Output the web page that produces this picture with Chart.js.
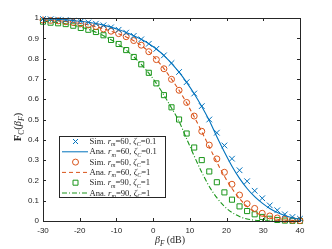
<!DOCTYPE html>
<html>
<head>
<meta charset="utf-8">
<script src="https://cdn.jsdelivr.net/npm/chart.js@4.4.0/dist/chart.umd.min.js"></script>
<style>
  html, body { margin: 0; padding: 0; background: #fff; }
  #wrap { width: 332px; height: 249px; position: relative; }
</style>
</head>
<body>
<div id="wrap"><canvas id="chart"></canvas></div>
<script>
// DATA
const beta = [-30, -27.94, -25.88, -23.82, -21.76, -19.71, -17.65, -15.59, -13.53, -11.47, -9.41, -7.35,
  -5.29, -3.24, -1.18, 0.88, 2.94, 5, 7.06, 9.12, 11.18, 13.24, 15.29, 17.35, 19.41, 21.47, 23.53,
  25.59, 27.65, 29.71, 31.76, 33.82, 35.88, 37.94, 40];

const simR60Z01 = [0.995, 0.994, 0.992, 0.990, 0.987, 0.983, 0.978, 0.972, 0.964, 0.954, 0.942, 0.928,
  0.912, 0.895, 0.873, 0.848, 0.816, 0.778, 0.734, 0.684, 0.628, 0.566, 0.500, 0.435, 0.372, 0.307,
  0.250, 0.196, 0.149, 0.112, 0.077, 0.053, 0.033, 0.020, 0.011];
const anaR60Z01 = [0.996, 0.995, 0.993, 0.991, 0.988, 0.984, 0.979, 0.973, 0.965, 0.955, 0.943, 0.929,
  0.913, 0.895, 0.873, 0.847, 0.815, 0.777, 0.733, 0.683, 0.627, 0.564, 0.495, 0.415, 0.340, 0.270,
  0.210, 0.160, 0.120, 0.088, 0.062, 0.042, 0.027, 0.016, 0.009];

const simR60Z1 = [0.990, 0.988, 0.986, 0.982, 0.978, 0.972, 0.966, 0.958, 0.946, 0.935, 0.923, 0.908,
  0.889, 0.866, 0.834, 0.795, 0.750, 0.698, 0.644, 0.584, 0.517, 0.442, 0.374, 0.306, 0.240, 0.181,
  0.128, 0.085, 0.062, 0.038, 0.025, 0.015, 0.008, 0.004, 0.002];
const anaR60Z1 = [0.991, 0.989, 0.987, 0.983, 0.979, 0.973, 0.966, 0.957, 0.947, 0.935, 0.922, 0.907,
  0.888, 0.865, 0.834, 0.796, 0.751, 0.699, 0.644, 0.582, 0.513, 0.440, 0.365, 0.290, 0.220, 0.160,
  0.110, 0.072, 0.045, 0.027, 0.016, 0.009, 0.005, 0.003, 0.001];

const simR90Z1 = [0.982, 0.977, 0.974, 0.970, 0.962, 0.951, 0.942, 0.931, 0.915, 0.892, 0.872, 0.842,
  0.808, 0.772, 0.730, 0.678, 0.620, 0.560, 0.500, 0.431, 0.362, 0.300, 0.244, 0.191, 0.141, 0.105,
  0.072, 0.049, 0.033, 0.020, 0.011, 0.005, 0.002, 0.001, 0.0];
const anaR90Z1 = [0.985, 0.981, 0.977, 0.971, 0.964, 0.955, 0.944, 0.930, 0.913, 0.893, 0.870, 0.842,
  0.809, 0.771, 0.728, 0.678, 0.620, 0.557, 0.490, 0.405, 0.320, 0.240, 0.170, 0.115, 0.072, 0.042,
  0.022, 0.010, 0.004, 0.001, 0, 0, 0, 0, 0];

const xTicks = [-30, -20, -10, 0, 10, 20, 30, 40];
const yTicks = [0, 0.1, 0.2, 0.3, 0.4, 0.5, 0.6, 0.7, 0.8, 0.9, 1];

const legendKind = ['Sim', 'Ana', 'Sim', 'Ana', 'Sim', 'Ana'];
const legendR = ['60', '60', '60', '60', '90', '90'];
const legendZeta = ['0.1', '0.1', '1', '1', '1', '1'];

const BLUE = '#0072BD', ORANGE = '#D95319', GREEN = '#1a961a', AX = '#262626';

function pts(ys) { return beta.map((b, i) => ({ x: b, y: ys[i] })); }

// text with italic / subscript pieces
function fontOf(p, size) {
  const s = p.sub ? size * 0.72 : size;
  return (p.it ? 'italic ' : '') + (p.b ? 'bold ' : '') + s + 'px "Liberation Serif", serif';
}
function richWidth(ctx, parts, size) {
  let w = 0;
  parts.forEach(p => { ctx.font = fontOf(p, size); w += ctx.measureText(p.t).width; });
  return w;
}
function drawRich(ctx, x, y, parts, size) {
  parts.forEach(p => {
    ctx.font = fontOf(p, size);
    ctx.fillText(p.t, x, y + (p.sub ? size * 0.28 : 0));
    x += ctx.measureText(p.t).width;
  });
}

const frame = {
  id: 'frame',
  afterDatasetsDraw(chart) {
    const { ctx, chartArea: a, scales: { x, y } } = chart;
    ctx.save();
    ctx.strokeStyle = AX;
    ctx.lineWidth = 1;
    ctx.beginPath();
    ctx.rect(Math.round(a.left) + 0.5, Math.round(a.top) + 0.5,
      Math.round(a.right - a.left), Math.round(a.bottom - a.top));
    x.ticks.forEach(t => {
      const px = Math.round(x.getPixelForValue(t.value)) + 0.5;
      ctx.moveTo(px, a.bottom); ctx.lineTo(px, a.bottom - 3);
      ctx.moveTo(px, a.top); ctx.lineTo(px, a.top + 3);
    });
    y.ticks.forEach(t => {
      const py = Math.round(y.getPixelForValue(t.value)) + 0.5;
      ctx.moveTo(a.left, py); ctx.lineTo(a.left + 3, py);
      ctx.moveTo(a.right, py); ctx.lineTo(a.right - 3, py);
    });
    ctx.stroke();
    ctx.restore();
  },
  afterDraw(chart) {
    const ctx = chart.ctx;
    ctx.save();
    ctx.fillStyle = AX;
    ctx.textBaseline = 'alphabetic';

    // axis titles
    const xt = [{ t: 'β', it: 1 }, { t: 'F', it: 1, sub: 1 }, { t: ' (dB)' }];
    drawRich(ctx, 170 - richWidth(ctx, xt, 10) / 2, 243, xt, 10);
    const yt = [{ t: 'F', b: 1 }, { t: 'C', sub: 1 }, { t: '(' }, { t: 'β', it: 1 }, { t: 'F', it: 1, sub: 1 }, { t: ')' }];
    ctx.save();
    ctx.translate(21, 127);
    ctx.rotate(-Math.PI / 2);
    drawRich(ctx, -richWidth(ctx, yt, 10.5) / 2, 0, yt, 10.5);
    ctx.restore();

    // legend
    const bx = 59.5, by = 136.5, bw = 106, bh = 61;
    ctx.fillStyle = '#fff';
    ctx.fillRect(bx, by, bw, bh);
    ctx.strokeStyle = AX;
    ctx.lineWidth = 1;
    ctx.strokeRect(bx, by, bw, bh);
    chart.data.datasets.forEach((ds, i) => {
      const ry = 141.5 + i * 10.3;
      ctx.strokeStyle = ds.borderColor;
      ctx.lineWidth = 1;
      if (ds.showLine) {
        ctx.setLineDash(ds.borderDash || []);
        ctx.beginPath(); ctx.moveTo(62, ry); ctx.lineTo(88, ry); ctx.stroke();
        ctx.setLineDash([]);
      } else {
        const mx = 75.5;
        ctx.beginPath();
        if (ds.pointStyle === 'crossRot') {
          ctx.moveTo(mx - 2.5, ry - 2.5); ctx.lineTo(mx + 2.5, ry + 2.5);
          ctx.moveTo(mx + 2.5, ry - 2.5); ctx.lineTo(mx - 2.5, ry + 2.5);
        } else if (ds.pointStyle === 'circle') {
          ctx.arc(mx, ry, 3, 0, Math.PI * 2);
        } else {
          ctx.rect(mx - 2.5, ry - 2.5, 5, 5);
        }
        ctx.stroke();
      }
      ctx.fillStyle = AX;
      const parts = [{ t: legendKind[i] + '. ' }, { t: 'r', it: 1 }, { t: 'm', it: 1, sub: 1 },
        { t: '=' + legendR[i] + ', ' }, { t: 'ζ', it: 1 }, { t: 'C', it: 1, sub: 1 }, { t: '=' + legendZeta[i] }];
      drawRich(ctx, 89.5, ry + 2.5, parts, 8.6);
    });
    ctx.restore();
  }
};

function simSet(label, ys, color, style, r) {
  return { label, data: pts(ys), showLine: false, borderColor: color, backgroundColor: 'rgba(0,0,0,0)',
    pointStyle: style, pointRadius: r, pointBorderWidth: 1, clip: false };
}
function anaSet(label, ys, color, dash) {
  return { label, data: pts(ys), showLine: true, borderColor: color, borderWidth: 1.1, borderDash: dash,
    pointRadius: 0, cubicInterpolationMode: 'monotone', fill: false, clip: false };
}

const tickFont = { family: '"Liberation Sans", Arial, sans-serif', size: 8 };

new Chart(document.getElementById('chart'), {
  type: 'scatter',
  data: {
    datasets: [
      simSet('Sim. r_m=60, ζ_C=0.1', simR60Z01, BLUE, 'crossRot', 4),
      anaSet('Ana. r_m=60, ζ_C=0.1', anaR60Z01, BLUE, []),
      simSet('Sim. r_m=60, ζ_C=1', simR60Z1, ORANGE, 'circle', 3),
      anaSet('Ana. r_m=60, ζ_C=1', anaR60Z1, ORANGE, [4, 3]),
      simSet('Sim. r_m=90, ζ_C=1', simR90Z1, GREEN, 'rect', 3.6),
      anaSet('Ana. r_m=90, ζ_C=1', anaR90Z1, GREEN, [5, 2, 1, 2])
    ]
  },
  options: {
    responsive: true,
    maintainAspectRatio: false,
    animation: false,
    layout: { padding: { left: 0, top: 18, right: 32, bottom: 0 } },
    plugins: { legend: { display: false }, tooltip: { enabled: false } },
    scales: {
      x: {
        type: 'linear', min: -30, max: 40,
        afterFit(s) { s.height = 28; },
        afterBuildTicks(s) { s.ticks = xTicks.map(v => ({ value: v })); },
        grid: { display: false, drawTicks: false },
        border: { display: false },
        ticks: { color: AX, padding: 5, maxRotation: 0, font: tickFont }
      },
      y: {
        type: 'linear', min: 0, max: 1,
        afterFit(s) { s.width = 43; },
        afterBuildTicks(s) { s.ticks = yTicks.map(v => ({ value: v })); },
        grid: { display: false, drawTicks: false },
        border: { display: false },
        ticks: { color: AX, padding: 4, callback: v => String(+v.toFixed(1)), font: tickFont }
      }
    }
  },
  plugins: [frame]
});
</script>
</body>
</html>
